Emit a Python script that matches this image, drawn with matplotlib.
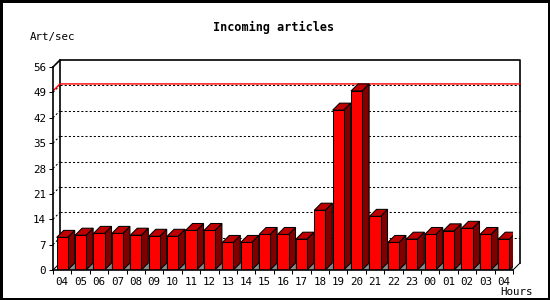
#!/usr/bin/env python3

"""Incoming articles per hour, drawn as a pseudo-3D bar chart."""

import matplotlib
matplotlib.use("Agg")
import matplotlib.pyplot as plt
from matplotlib.patches import Polygon

hours = ["04", "05", "06", "07", "08", "09", "10", "11", "12", "13", "14", "15",
         "16", "17", "18", "19", "20", "21", "22", "23", "00", "01", "02", "03", "04"]
rates = [9.0, 9.6, 10.1, 10.1, 9.6, 9.3, 9.3, 10.9, 10.9, 7.6, 7.6, 9.8,
         9.8, 8.5, 16.5, 44.1, 49.4, 14.8, 7.6, 8.5, 9.8, 10.8, 11.5, 9.8, 8.5]
y_ticks = [0, 7, 14, 21, 28, 35, 42, 49, 56]

W, H = 550, 300
fig = plt.figure(figsize=(W / 100, H / 100), dpi=100)
fig.patch.set_facecolor("white")
fig.patch.set_edgecolor("black")
fig.patch.set_linewidth(2.2)

# front plot region in pixels
x0, x1, y0, y1 = 53, 513, 270, 67
ax = fig.add_axes([x0 / W, (H - y0) / H, (x1 - x0) / W, (y0 - y1) / H])
n = len(rates)
ymax = y_ticks[-1]
ax.set_xlim(0, n)
ax.set_ylim(0, ymax)
ax.set_facecolor("none")

# 3D depth: 7 px right and 7 px up, in data units
depth = 7
dx = depth / ((x1 - x0) / n)
dy = depth / ((y0 - y1) / ymax)

lw = 0.75
dots = (0, (2, 2))

# back wall outline and floor edges
ax.plot([dx, dx, n + dx, n + dx], [dy, ymax + dy, ymax + dy, dy],
        color="black", lw=1.2, clip_on=False, zorder=1)
ax.plot([0, dx], [ymax, ymax + dy], color="black", lw=1.2, clip_on=False, zorder=1)
ax.plot([0, dx], [0, dy], color="black", lw=lw, clip_on=False, zorder=1)
ax.plot([n, n + dx], [0, dy], color="black", lw=lw, clip_on=False, zorder=1)

# dotted grid on the back wall
for v in y_ticks[1:-1]:
    ax.plot([dx, n + dx], [v + dy, v + dy], color="black", lw=lw,
            linestyle=dots, clip_on=False, zorder=1)
    ax.plot([0, dx], [v, v + dy], color="black", lw=lw,
            linestyle=dots, clip_on=False, zorder=1)

# peak line
peak = max(rates)
ax.plot([0, dx, n + dx], [peak, peak + dy, peak + dy], color="red", lw=1.0,
        clip_on=False, zorder=2)

# bars
bw = 0.6
centers = [i + 0.5 for i in range(n)]
bars = ax.bar(centers, rates, width=bw, color="#ff0000", edgecolor="black",
              linewidth=lw, zorder=4)
for bar in bars:
    l = bar.get_x()
    r = l + bar.get_width()
    t = bar.get_height()
    ax.add_patch(Polygon([(r, 0), (r + dx, dy), (r + dx, 0)], closed=True,
                         facecolor="#8c8c8c", edgecolor="#5a5a5a", linewidth=0.5,
                         zorder=3))
    ax.add_patch(Polygon([(r, 0), (r + dx, dy), (r + dx, t + dy), (r, t)],
                         closed=True, facecolor="#800000", edgecolor="black",
                         linewidth=lw, zorder=3))
    ax.add_patch(Polygon([(l, t), (r, t), (r + dx, t + dy), (l + dx, t + dy)],
                         closed=True, facecolor="#c00000", edgecolor="black",
                         linewidth=lw, zorder=3))

# axes
for side in ("top", "right"):
    ax.spines[side].set_visible(False)
for side in ("left", "bottom"):
    ax.spines[side].set_linewidth(1.2)
    ax.spines[side].set_zorder(5)

ax.set_yticks(y_ticks)
ax.set_yticklabels([str(v) for v in y_ticks])
ax.set_xticks(centers)
ax.set_xticklabels(hours)
ax.set_xticks(range(n + 1), minor=True)
ax.tick_params(axis="x", which="major", length=0, pad=5)
ax.tick_params(axis="x", which="minor", length=3, width=lw, direction="out")
ax.tick_params(axis="y", length=3, width=lw, pad=2)
for lab in ax.get_xticklabels() + ax.get_yticklabels():
    lab.set_fontsize(7.8)
    lab.set_fontfamily("DejaVu Sans Mono")

fig.text(274 / W, 1 - 27 / H, "Incoming articles", ha="center", va="center",
         fontsize=8.5, fontweight="bold", family="DejaVu Sans Mono")
fig.text(30 / W, 1 - 37 / H, "Art/sec", ha="left", va="center", fontsize=7.8,
         family="DejaVu Sans Mono")
fig.text(533 / W, 1 - 292 / H, "Hours", ha="right", va="center", fontsize=7.8,
         family="DejaVu Sans Mono")

fig.savefig("out.png", dpi=100, facecolor=fig.get_facecolor(),
            edgecolor=fig.get_edgecolor())
